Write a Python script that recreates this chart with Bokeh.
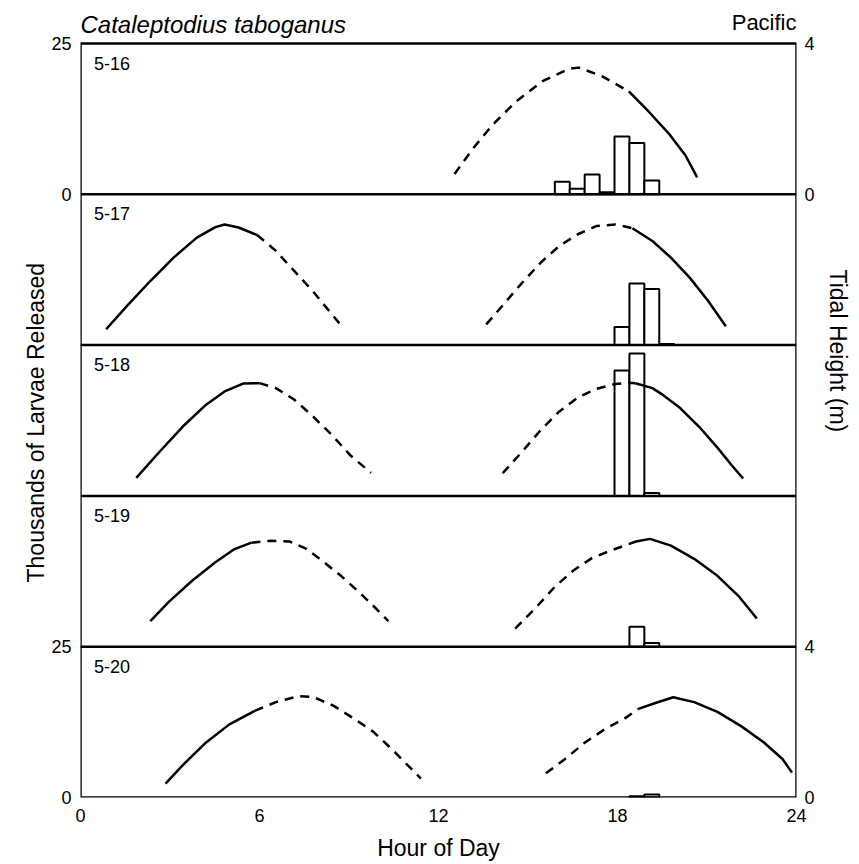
from bokeh.plotting import figure
from bokeh.models import Range1d, LinearAxis, FixedTicker, Span, BoxAnnotation, Title
from bokeh.embed import file_html
from bokeh.resources import INLINE
from bokeh.core.properties import value

FONT = "Liberation Sans"

# ---------------- data ----------------
panel_names = ["5-16", "5-17", "5-18", "5-19", "5-20"]
larvae_max = 25      # thousands per panel
tide_max = 4         # metres per panel
bar_width_h = 0.5    # half-hour sampling

# larvae released (thousands) per half-hour interval (interval start hour)
bars_516_start = [15.9, 16.4, 16.9, 17.4, 17.9, 18.4, 18.9]
bars_516 = [2.1, 0.9, 3.3, 0.35, 9.6, 8.5, 2.3]
bars_517_start = [17.9, 18.4, 18.9, 19.4]
bars_517 = [3.0, 10.2, 9.3, 0.2]
bars_518_start = [17.9, 18.4, 18.9]
bars_518 = [20.8, 23.6, 0.5]
bars_519_start = [18.4, 18.9]
bars_519 = [3.3, 0.6]
bars_520_start = [18.4, 18.9]
bars_520 = [0.2, 0.5]

# tidal height (m); dashed = daylight, solid = night
tide_516_day_h = [12.54, 13.15, 13.81, 14.6, 15.49, 16.38, 16.71, 17.49, 18.38]
tide_516_day_m = [0.54, 1.21, 1.84, 2.46, 3.0, 3.33, 3.36, 3.13, 2.73]
tide_516_night_h = [18.38, 19.05, 19.72, 20.28, 20.67]
tide_516_night_m = [2.73, 2.19, 1.61, 1.03, 0.45]

tide_517a_night_h = [0.86, 1.56, 2.34, 3.12, 3.90, 4.52, 4.83, 5.30, 5.92]
tide_517a_night_m = [0.42, 1.04, 1.70, 2.32, 2.85, 3.13, 3.20, 3.12, 2.92]
tide_517a_day_h = [5.92, 6.55, 7.17, 7.79, 8.34, 8.76]
tide_517a_day_m = [2.92, 2.50, 1.96, 1.43, 0.90, 0.50]
tide_517b_day_h = [13.60, 14.18, 14.80, 15.43, 16.05, 16.67, 17.30, 17.92, 18.50]
tide_517b_day_m = [0.55, 1.08, 1.65, 2.19, 2.63, 2.94, 3.16, 3.20, 3.10]
tide_517b_night_h = [18.50, 19.17, 19.79, 20.42, 21.04, 21.63]
tide_517b_night_m = [3.10, 2.76, 2.32, 1.79, 1.17, 0.50]

tide_518a_night_h = [1.87, 2.65, 3.43, 4.21, 4.83, 5.45, 6.0]
tide_518a_night_m = [0.48, 1.17, 1.84, 2.42, 2.77, 2.98, 2.99]
tide_518a_day_h = [6.0, 6.55, 7.17, 7.79, 8.42, 9.04, 9.74]
tide_518a_day_m = [2.99, 2.86, 2.55, 2.11, 1.62, 1.08, 0.61]
tide_518b_day_h = [14.15, 14.80, 15.43, 16.05, 16.67, 17.30, 17.92, 18.39, 18.6]
tide_518b_day_m = [0.60, 1.17, 1.75, 2.24, 2.61, 2.84, 2.97, 3.0, 2.99]
tide_518b_night_h = [18.6, 19.17, 19.48, 20.10, 20.73, 21.35, 21.82, 22.21]
tide_518b_night_m = [2.99, 2.86, 2.70, 2.33, 1.84, 1.28, 0.82, 0.46]

tide_519a_night_h = [2.34, 2.96, 3.74, 4.52, 5.14, 5.73]
tide_519a_night_m = [0.68, 1.19, 1.75, 2.24, 2.58, 2.76]
tide_519a_day_h = [5.73, 6.39, 7.01, 7.56, 8.10, 8.73, 9.35, 9.82, 10.32]
tide_519a_day_m = [2.76, 2.81, 2.79, 2.60, 2.28, 1.88, 1.44, 1.08, 0.68]
tide_519b_day_h = [14.57, 15.27, 15.90, 16.52, 17.14, 17.77, 18.62]
tide_519b_day_m = [0.48, 1.04, 1.59, 2.02, 2.35, 2.55, 2.79]
tide_519b_night_h = [18.62, 19.09, 19.79, 20.57, 21.35, 22.05, 22.67]
tide_519b_night_m = [2.79, 2.86, 2.68, 2.33, 1.88, 1.35, 0.75]

tide_520a_night_h = [2.85, 3.43, 4.21, 4.99, 5.84]
tide_520a_night_m = [0.37, 0.86, 1.46, 1.94, 2.30]
tide_520a_day_h = [5.84, 6.55, 7.32, 7.79, 8.49, 9.19, 9.82, 10.44, 10.99, 11.41]
tide_520a_day_m = [2.30, 2.53, 2.69, 2.67, 2.43, 2.08, 1.74, 1.28, 0.84, 0.50]
tide_520b_day_h = [15.6, 16.21, 16.91, 17.61, 18.23, 18.70]
tide_520b_day_m = [0.64, 1.00, 1.46, 1.83, 2.09, 2.35]
tide_520b_night_h = [18.70, 19.32, 19.87, 20.57, 21.35, 22.13, 22.91, 23.53, 23.85]
tide_520b_night_m = [2.35, 2.52, 2.66, 2.53, 2.27, 1.90, 1.46, 1.02, 0.66]

x_ticks = [0, 6, 12, 18, 24]
species = "Cataleptodius taboganus"
ocean = "Pacific"

# ---------------- assemble ----------------
bars = [
    (bars_516_start, bars_516),
    (bars_517_start, bars_517),
    (bars_518_start, bars_518),
    (bars_519_start, bars_519),
    (bars_520_start, bars_520),
]
tides = [
    [(tide_516_day_h, tide_516_day_m, "day"), (tide_516_night_h, tide_516_night_m, "night")],
    [(tide_517a_night_h, tide_517a_night_m, "night"), (tide_517a_day_h, tide_517a_day_m, "day"),
     (tide_517b_day_h, tide_517b_day_m, "day"), (tide_517b_night_h, tide_517b_night_m, "night")],
    [(tide_518a_night_h, tide_518a_night_m, "night"), (tide_518a_day_h, tide_518a_day_m, "day"),
     (tide_518b_day_h, tide_518b_day_m, "day"), (tide_518b_night_h, tide_518b_night_m, "night")],
    [(tide_519a_night_h, tide_519a_night_m, "night"), (tide_519a_day_h, tide_519a_day_m, "day"),
     (tide_519b_day_h, tide_519b_day_m, "day"), (tide_519b_night_h, tide_519b_night_m, "night")],
    [(tide_520a_night_h, tide_520a_night_m, "night"), (tide_520a_day_h, tide_520a_day_m, "day"),
     (tide_520b_day_h, tide_520b_day_m, "day"), (tide_520b_night_h, tide_520b_night_m, "night")],
]

n = len(panel_names)

# layout geometry (pixels)
W, H = 859, 864
B_LEFT, B_RIGHT, B_TOP, B_BOTTOM = 80, 61, 5, 67
HEAD_PX = 38                      # strip above the panels holding species / ocean
frame_h = H - B_TOP - B_BOTTOM
plot_h = frame_h - HEAD_PX
stretch = frame_h / plot_h        # data range above the panels used by the header strip

p = figure(width=W, height=H, output_backend="svg", toolbar_location=None,
           x_range=Range1d(0, 24), y_range=Range1d(0, n * larvae_max * stretch),
           min_border_left=B_LEFT, min_border_right=B_RIGHT,
           min_border_top=B_TOP, min_border_bottom=B_BOTTOM,
           background_fill_color="white", border_fill_color="white")
p.extra_y_ranges = {"tide": Range1d(0, n * tide_max * stretch)}
p.xgrid.grid_line_color = None
p.ygrid.grid_line_color = None
p.outline_line_color = None

def style_axis(ax):
    ax.axis_line_color = None
    ax.major_tick_line_color = None
    ax.minor_tick_line_color = None
    ax.major_label_text_font = FONT
    ax.major_label_text_font_size = "18px"
    ax.major_label_text_color = "black"
    ax.axis_label_text_font = FONT
    ax.axis_label_text_font_size = "23px"
    ax.axis_label_text_font_style = "normal"
    ax.axis_label_text_color = "black"

# x axis
xa = p.xaxis[0]
xa.ticker = FixedTicker(ticks=x_ticks)
xa.axis_label = "Hour of Day"
style_axis(xa)
xa.major_label_standoff = 5
xa.axis_label_standoff = 10

# left axis: only the top panel and bottom panel are scaled
ya = p.yaxis[0]
ya.ticker = FixedTicker(ticks=[0, larvae_max, (n - 1) * larvae_max, n * larvae_max])
ya.major_label_overrides = {0: "0", larvae_max: str(larvae_max),
                            (n - 1) * larvae_max: "0", n * larvae_max: str(larvae_max)}
style_axis(ya)
ya.major_label_standoff = 3

# right axis for tidal height
ra = LinearAxis(y_range_name="tide")
ra.ticker = FixedTicker(ticks=[0, tide_max, (n - 1) * tide_max, n * tide_max])
ra.major_label_overrides = {0: "0", tide_max: str(tide_max),
                            (n - 1) * tide_max: "0", n * tide_max: str(tide_max)}
style_axis(ra)
ra.major_label_standoff = 2
p.add_layout(ra, "right")

# vertical axis titles, placed along the panels
p.add_layout(Title(text="Thousands of Larvae Released", align="left", offset=215,
                   text_font=FONT, text_font_size="23px", text_font_style="normal",
                   text_color="black", standoff=0), "left")
p.add_layout(Title(text="Tidal Height (m)", align="left", offset=264,
                   text_font=FONT, text_font_size="23px", text_font_style="normal",
                   text_color="black", standoff=14), "right")

# panel frame and separators
p.add_layout(BoxAnnotation(left=0, right=24, bottom=0, top=n * larvae_max,
                           fill_alpha=0, line_color="black", line_alpha=1.0, line_width=2.5))
for k in range(1, n):
    p.add_layout(Span(location=k * larvae_max, dimension="width",
                      line_color="black", line_width=2.5))

for i in range(n):
    off_l = (n - 1 - i) * larvae_max
    off_t = (n - 1 - i) * tide_max
    starts, vals = bars[i]
    p.quad(left=starts, right=[s + bar_width_h for s in starts],
           bottom=[off_l] * len(starts), top=[off_l + v for v in vals],
           fill_color="white", line_color="black", line_width=2)
    for hs, ms, kind in tides[i]:
        p.line(hs, [off_t + m for m in ms], y_range_name="tide",
               line_color="black", line_width=2.5, line_join="round", line_cap="butt",
               line_dash="solid" if kind == "night" else "9 7")

# panel date labels
p.text(x=[0.45] * n, y=[(n - i) * larvae_max for i in range(n)], text=panel_names,
       text_baseline="top", text_align="left", y_offset=13,
       text_font=value(FONT), text_font_size="18px", text_color="black")

# species and ocean above the panels
p.text(x=[0], y=[n * larvae_max], text=[species], text_align="left",
       text_baseline="alphabetic", y_offset=-19,
       text_font=value(FONT), text_font_size="24px", text_font_style="italic",
       text_color="black")
p.text(x=[24], y=[n * larvae_max], text=[ocean], text_align="right",
       text_baseline="alphabetic", y_offset=-21,
       text_font=value(FONT), text_font_size="22px", text_color="black")

open("out.html", "w").write(file_html(p, INLINE))
